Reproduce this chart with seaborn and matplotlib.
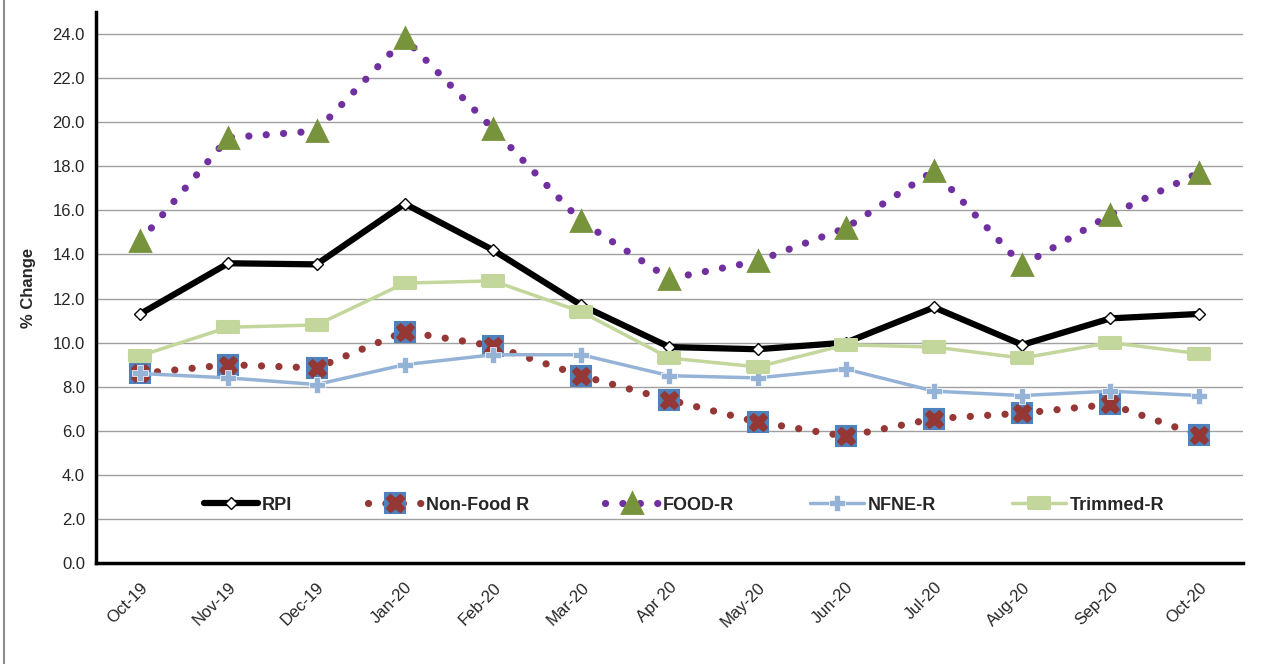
import numpy as np
import pandas as pd
import seaborn as sns
import matplotlib.pyplot as plt
from matplotlib.lines import Line2D
from matplotlib.legend_handler import HandlerTuple
from matplotlib.ticker import FormatStrFormatter

# Data
months = ["Oct-19", "Nov-19", "Dec-19", "Jan-20", "Feb-20", "Mar-20", "Apr 20",
          "May-20", "Jun-20", "Jul-20", "Aug-20", "Sep-20", "Oct-20"]
rpi = [11.3, 13.6, 13.55, 16.3, 14.2, 11.7, 9.8, 9.7, 10.0, 11.6, 9.9, 11.1, 11.3]
non_food = [8.6, 9.0, 8.85, 10.5, 9.85, 8.5, 7.4, 6.4, 5.75, 6.55, 6.8, 7.2, 5.8]
food = [14.6, 19.3, 19.6, 23.8, 19.7, 15.5, 12.9, 13.7, 15.2, 17.8, 13.5, 15.8, 17.7]
nfne = [8.6, 8.4, 8.1, 9.0, 9.45, 9.45, 8.5, 8.4, 8.8, 7.8, 7.6, 7.8, 7.6]
trimmed = [9.4, 10.7, 10.8, 12.7, 12.8, 11.4, 9.3, 8.9, 9.9, 9.8, 9.3, 10.0, 9.5]

df = pd.DataFrame({"pos": np.arange(len(months)), "RPI": rpi, "Non-Food R": non_food,
                   "FOOD-R": food, "NFNE-R": nfne, "Trimmed-R": trimmed})

sns.set_style("white")
plt.rcParams["font.family"] = ["Liberation Sans", "DejaVu Sans"]

fig = plt.figure(figsize=(12.63, 6.64), dpi=100)
ax = fig.add_axes([0.076, 0.152, 0.908, 0.83])

dots = (0, (0.01, 2.4))
rect = [(-1.8, -1), (1.8, -1), (1.8, 1), (-1.8, 1), (-1.8, -1)]

# styles shared by plot and legend
st_rpi = dict(color="black", linewidth=4.5, marker="D", markersize=6,
              markerfacecolor="white", markeredgecolor="black", markeredgewidth=1)
st_nf = dict(color="#953735", linewidth=5.2, linestyle=dots, dash_capstyle="round",
             marker="s", markersize=15, markerfacecolor="#4F81BD",
             markeredgecolor="#4F81BD", markeredgewidth=1.5)
st_nfx = dict(color="#953735", linewidth=0, marker="X", markersize=13,
              markerfacecolor="#953735", markeredgecolor="#953735")
st_food = dict(color="#7030A0", linewidth=5.2, linestyle=dots, dash_capstyle="round",
               marker="^", markersize=14, markerfacecolor="#77933C",
               markeredgecolor="#77933C", markeredgewidth=2)
st_nfne = dict(color="#95B3D7", linewidth=2.5, marker="P", markersize=11,
               markerfacecolor="#95B3D7", markeredgecolor="white", markeredgewidth=0.5)
st_trim = dict(color="#C3D69B", linewidth=2.5, marker=rect, markersize=16,
               markerfacecolor="#C3D69B", markeredgecolor="#C3D69B",
               markeredgewidth=1.5)

sns.lineplot(data=df, x="pos", y="RPI", ax=ax, zorder=3, **st_rpi)
sns.lineplot(data=df, x="pos", y="Non-Food R", ax=ax, zorder=4, **st_nf)
sns.lineplot(data=df, x="pos", y="Non-Food R", ax=ax, zorder=5, **st_nfx)
sns.lineplot(data=df, x="pos", y="FOOD-R", ax=ax, zorder=6, **st_food)
sns.lineplot(data=df, x="pos", y="NFNE-R", ax=ax, zorder=7, **st_nfne)
sns.lineplot(data=df, x="pos", y="Trimmed-R", ax=ax, zorder=8, **st_trim)

ax.set_xlim(-0.5, len(months) - 0.5)
ax.set_ylim(0, 25)
ax.set_yticks(np.arange(0, 25, 2))
ax.yaxis.set_major_formatter(FormatStrFormatter("%.1f"))
ax.set_xticks(df["pos"])
ax.set_xticklabels(months, rotation=45, ha="right", rotation_mode="anchor", fontsize=12)
ax.tick_params(axis="x", length=0, pad=12)
ax.tick_params(axis="y", length=0, pad=8, labelsize=12)
ax.set_xlabel("")
ax.set_ylabel("% Change", fontsize=12, fontweight="bold", labelpad=12)
ax.yaxis.grid(True, color="#A0A0A0", linewidth=1.0)
ax.xaxis.grid(False)
for s in ["top", "right"]:
    ax.spines[s].set_visible(False)
for s in ["left", "bottom"]:
    ax.spines[s].set_color("black")
    ax.spines[s].set_linewidth(2.5)

# Legend
h_rpi = Line2D([], [], **st_rpi)
h_nf = Line2D([], [], **st_nf)
h_nfx = Line2D([], [], **st_nfx)
h_food = Line2D([], [], **st_food)
h_nfne = Line2D([], [], **st_nfne)
h_trim = Line2D([], [], **st_trim)
leg = ax.legend([h_rpi, (h_nf, h_nfx), h_food, h_nfne, h_trim],
                ["RPI", "Non-Food R", "FOOD-R", "NFNE-R", "Trimmed-R"],
                handler_map={tuple: HandlerTuple(ndivide=1, pad=0)},
                ncol=5, loc="center", bbox_to_anchor=(0.513, 0.105), frameon=False,
                handlelength=3.0, handletextpad=0.2, columnspacing=4.2,
                prop={"weight": "bold", "size": 13})
leg.set_zorder(10)

fig.add_artist(Line2D([0.003, 0.003], [0, 1], transform=fig.transFigure,
                      color="#8C8C8C", linewidth=1.5))

fig.savefig("out.png", dpi=100)
